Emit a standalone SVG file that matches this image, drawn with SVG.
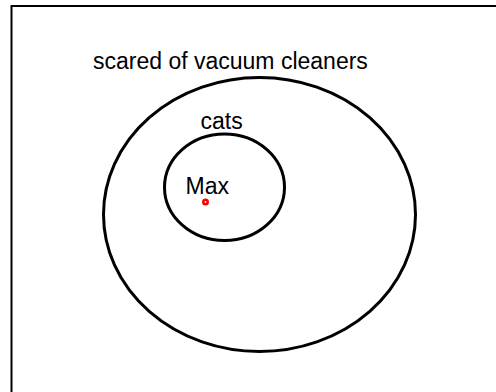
<svg xmlns="http://www.w3.org/2000/svg" width="496" height="392" viewBox="0 0 496 392">
<style>
.set{fill:none;stroke:#000;stroke-width:3}
.lbl{font-family:"Liberation Sans",Arial,sans-serif;font-size:23px;fill:#000}
</style>
<rect width="496" height="392" fill="#fff"/>
<rect x="11.5" y="6" width="500" height="400" fill="none" stroke="#000" stroke-width="2"/>
<g id="scared">
<ellipse class="set" cx="259.5" cy="214.5" rx="156" ry="137"/>
<text class="lbl" x="93" y="69">scared of vacuum cleaners</text>
</g>
<g id="cats">
<ellipse class="set" cx="224.5" cy="187.2" rx="60" ry="53.3"/>
<text class="lbl" x="200.5" y="128.5">cats</text>
</g>
<g id="max">
<circle cx="205.5" cy="202" r="2.2" fill="#fff" stroke="#f00" stroke-width="2.6"/>
<text class="lbl" x="185.5" y="193.5">Max</text>
</g>
<g id="connectors"/>
</svg>
